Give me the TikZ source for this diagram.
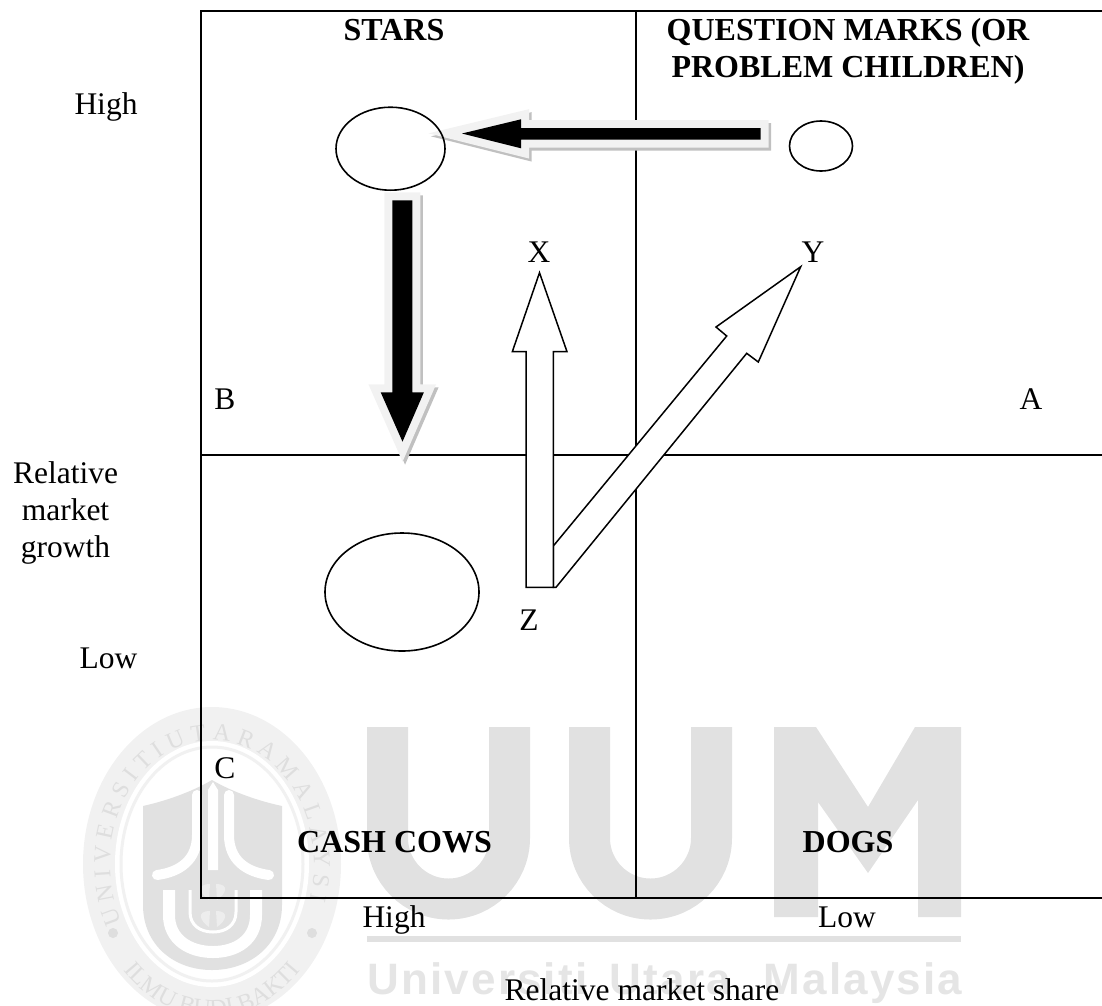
\documentclass[tikz,border=0pt]{standalone}
\usepackage{fontspec}
\setmainfont{Liberation Serif}
\newfontfamily\wmfont{Liberation Sans}[Scale=1,LetterSpace=5]
\newfontfamily\sealfont{Liberation Serif}
\usetikzlibrary{shapes.geometric,decorations.text}
\definecolor{wm}{HTML}{E1E1E1}
\definecolor{wmband}{HTML}{F1F1F1}
\definecolor{wmleaf}{HTML}{EDEDED}
\definecolor{wmtxt}{HTML}{DEDEDE}
\definecolor{glow}{HTML}{F2F2F2}
\definecolor{shade}{HTML}{C0C0C0}
\tikzset{
  frameline/.style={line width=2pt,black},
  label/.style={inner sep=0pt,anchor=base,font=\fontsize{31.5}{31.5}\selectfont},
  head/.style={inner sep=0pt,anchor=base,font=\fontsize{32}{32}\selectfont\bfseries},
  bubble/.style={ellipse,draw=black,line width=1.6pt,inner sep=0pt,fill=none},
  hollow/.style={draw=black,fill=white,line width=1.5pt,miter limit=10},
  glowline/.style={draw=glow,line width=16pt,fill=glow,miter limit=10},
  shadeline/.style={draw=shade,line width=16pt,fill=shade,miter limit=10},
  wmstroke/.style={draw=wm,line width=41pt},
  sealwhite/.style={draw=white,line cap=round},
}
\begin{document}
\begin{tikzpicture}[x=1pt,y=-1pt]
\useasboundingbox (0,0) rectangle (1102,1005);
\begin{scope}
\clip (0,0) rectangle (1102,1005);
% watermark letters
\draw[wmstroke] (387.5,727) -- (387.5,838) arc[start angle=180,end angle=0,radius=61] -- (509.5,727);
\draw[wmstroke] (589.5,727) -- (589.5,838) arc[start angle=180,end angle=0,radius=61] -- (711.5,727);
\fill[wm] (774,727) -- (816,727) -- (868,807) -- (915,727) -- (961,727) -- (961,917) -- (918,917) -- (918,800) -- (868,873) -- (818,802) -- (818,917) -- (774,917) -- cycle;
\fill[wm] (367,936) rectangle (961,942);
\node[inner sep=0pt,anchor=base west,text=wm!85!white,font=\wmfont\bfseries\fontsize{44}{44}\selectfont] (wmname) at (367,994) {Universiti\hspace{8pt} Utara\hspace{18pt} Malaysia};
% seal
\fill[wmband] (212,864) ellipse[x radius=129,y radius=157];
\fill[white] (212,864) ellipse[x radius=97,y radius=123];
\draw[wmband,line width=3pt] (212,864) ellipse[x radius=91,y radius=117];
\fill[wm] (143,806) .. controls (170,800) and (195,790) .. (212,780) .. controls (229,790) and (254,800) .. (282,806) -- (282,905) .. controls (282,945) and (250,970) .. (212,970) .. controls (174,970) and (143,945) .. (143,905) -- cycle;
\draw[sealwhite,line width=10pt] (197,795) -- (197,835) .. controls (197,860) and (180,872) .. (157,875);
\draw[sealwhite,line width=10pt] (229,795) -- (229,835) .. controls (229,860) and (246,872) .. (269,875);
\fill[white] (208,870) -- (208,790) -- (213,782) -- (218,790) -- (218,870) -- cycle;
\draw[draw=white,line width=12pt] (169,890) -- (169,915) .. controls (169,940) and (190,952) .. (213,952) .. controls (236,952) and (256,940) .. (256,915) -- (256,890);
\draw[draw=white,line width=3pt] (190,890) -- (190,912) .. controls (190,925) and (200,932) .. (213,932) .. controls (226,932) and (236,925) .. (236,912) -- (236,890);
\foreach \yy in {0,27}{
  \fill[wmleaf] (210,{884+\yy}) .. controls (196,{884+\yy}) and (200,{894+\yy}) .. (209,{900+\yy}) -- cycle;
  \fill[wmleaf] (216,{884+\yy}) .. controls (230,{884+\yy}) and (226,{894+\yy}) .. (217,{900+\yy}) -- cycle;
}
\fill[wmtxt] (113,933) circle[radius=5];
\fill[wmtxt] (312,933) circle[radius=5];
\path[decorate,decoration={text along path,text align=center,text={|\sealfont\fontsize{24}{24}\selectfont\color{wmtxt}|U N I V E R S I T I  U T A R A  M A L A Y S I A}}]
  (116.2,906.4) arc[start angle=160,end angle=380,x radius=102,y radius=124];
\path[decorate,decoration={text along path,text align=center,text={|\sealfont\fontsize{24}{24}\selectfont\color{wmtxt}|ILMU BUDI BAKTI}}]
  (124.3,971.5) arc[start angle=135,end angle=45,x radius=124,y radius=152];
\end{scope}
% frame
\draw[frameline] (1102,11) -- (201,11) -- (201,897.7) -- (1102,897.7);
\draw[frameline] (201,455) -- (1102,455);
\draw[frameline] (636,11) -- (636,897.7);
% left arrow
\path[shadeline,shift={(2.5,3)}] (462,133.5) -- (521,119.3) -- (521,128) -- (760.7,128) -- (760.7,139.7) -- (521,139.7) -- (521,148.3) -- cycle;
\path[glowline] (462,133.5) -- (521,119.3) -- (521,128) -- (760.7,128) -- (760.7,139.7) -- (521,139.7) -- (521,148.3) -- cycle;
\fill[black] (462,133.5) -- (521,119.3) -- (521,128) -- (760.7,128) -- (760.7,139.7) -- (521,139.7) -- (521,148.3) -- cycle;
% down arrow
\path[shadeline,shift={(2.5,3)}] (402.5,441.7) -- (380.7,392.3) -- (392.3,392.3) -- (392.3,200.3) -- (412.3,200.3) -- (412.3,392.3) -- (423.9,392.3) -- cycle;
\path[glowline] (402.5,441.7) -- (380.7,392.3) -- (392.3,392.3) -- (392.3,200.3) -- (412.3,200.3) -- (412.3,392.3) -- (423.9,392.3) -- cycle;
\fill[black] (402.5,441.7) -- (380.7,392.3) -- (392.3,392.3) -- (392.3,200.3) -- (412.3,200.3) -- (412.3,392.3) -- (423.9,392.3) -- cycle;
% ellipses
\node[bubble,minimum width=109pt,minimum height=83pt] (stars) at (390.5,148.7) {};
\node[bubble,minimum width=63pt,minimum height=50pt] (qm) at (821,146) {};
\node[bubble,minimum width=154pt,minimum height=118pt] (cows) at (402,592) {};
% hollow arrows
\path[hollow] (800.7,266.7) -- (716,327) -- (726.7,336) -- (553.3,546) -- (553.3,587.3) -- (556,587.3) -- (746.7,353.3) -- (758.3,362) -- cycle;
\path[hollow] (539.5,272.7) -- (512.3,351.7) -- (526,351.7) -- (526,587.3) -- (553.3,587.3) -- (553.3,351.7) -- (567,351.7) -- cycle;
% labels
\node[head] (tstars) at (394,40.7) {STARS};
\node[head] (tq1) at (848,40.7) {QUESTION MARKS (OR};
\node[head] (tq2) at (848,77.3) {PROBLEM CHILDREN)};
\node[head] (tcash) at (394.5,852.7) {CASH COWS};
\node[head] (tdogs) at (848,852.7) {DOGS};
\node[label] (lhigh) at (106,114) {High};
\node[label] (llow) at (108.5,668) {Low};
\node[label] (lrel) at (65.5,483) {Relative};
\node[label] (lmar) at (65.5,520.7) {market};
\node[label] (lgro) at (65.5,557.3) {growth};
\node[label] (lA) at (1031,409) {A};
\node[label] (lB) at (225,409) {B};
\node[label] (lC) at (225,778) {C};
\node[label] (lX) at (539,262) {X};
\node[label] (lY) at (813,262) {Y};
\node[label] (lZ) at (529,630) {Z};
\node[label] (bhigh) at (394,927) {High};
\node[label] (blow) at (847,927) {Low};
\node[label] (bshare) at (642,1000) {Relative market share};
\end{tikzpicture}
\end{document}
